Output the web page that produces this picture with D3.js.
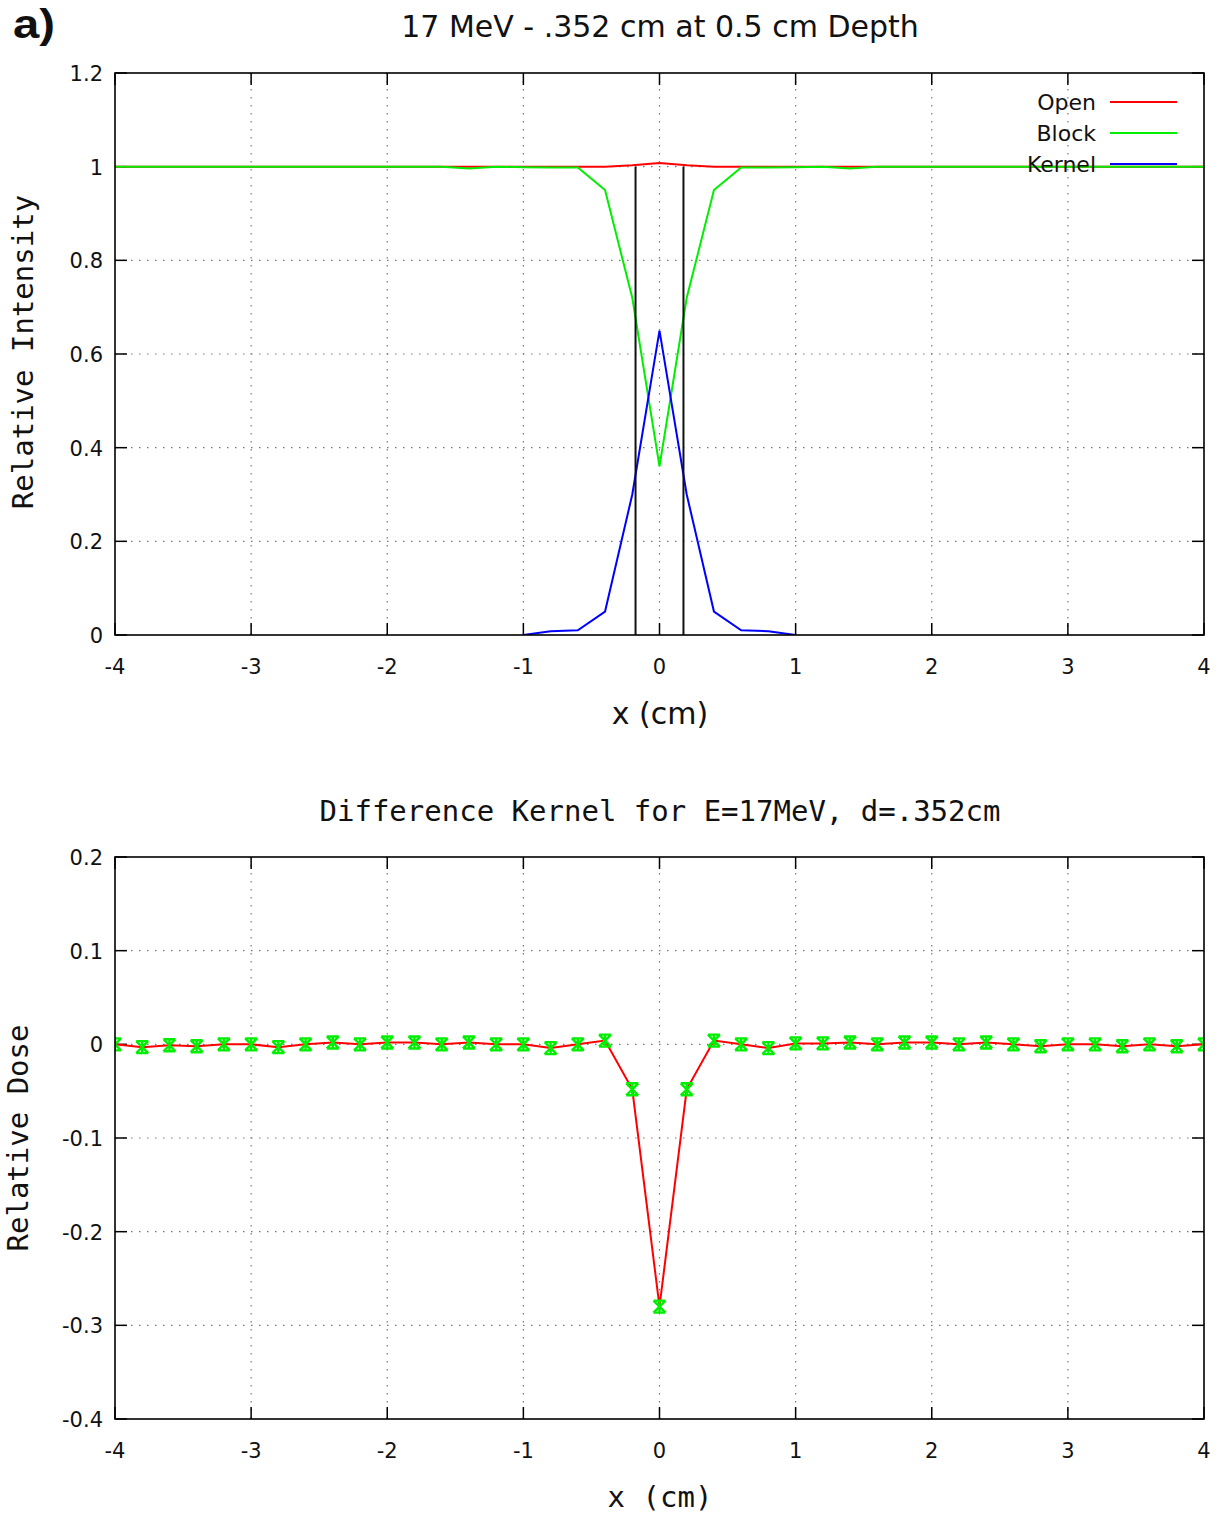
<!DOCTYPE html>
<html>
<head>
<meta charset="utf-8">
<script src="https://cdn.jsdelivr.net/npm/d3@7"></script>
<style>
body{margin:0;background:#fff;}
svg{display:block;}
</style>
</head>
<body>
<svg id="chart" width="1225" height="1517"></svg>
<script>
// ---------- Data ----------
const xPos = [-4.0,-3.8,-3.6,-3.4,-3.2,-3.0,-2.8,-2.6,-2.4,-2.2,-2.0,-1.8,-1.6,-1.4,-1.2,-1.0,-0.8,-0.6,-0.4,-0.2,0.0,
              0.2,0.4,0.6,0.8,1.0,1.2,1.4,1.6,1.8,2.0,2.2,2.4,2.6,2.8,3.0,3.2,3.4,3.6,3.8,4.0];
const openVals = [1,1,1,1,1,1,1,1,1,1,1,1,1,1,1,1,1,1,1,1.003,1.008,
                  1.003,1,1,1,1,1,1,1,1,1,1,1,1,1,1,1,1,1,1,1];
const blockVals = [1,1,1,1,1,1,1,1,1,1,1,1,1,0.996,1,0.999,0.998,0.998,0.95,0.72,0.36,
                   0.72,0.95,0.998,0.998,0.999,1,0.996,1,1,1,1,1,1,1,1,1,1,1,1,1];
const kernelX = [-1.0,-0.8,-0.6,-0.4,-0.2,0.0,0.2,0.4,0.6,0.8,1.0];
const kernelVals = [0,0.008,0.01,0.05,0.30,0.65,0.30,0.05,0.01,0.008,0];
const blockEdges = [-0.176, 0.176];
const diffVals = [0,-0.003,-0.001,-0.002,0,0,-0.003,0,0.002,0,0.002,0.002,0,0.002,0,0,-0.004,0,0.004,-0.048,-0.28,
                  -0.048,0.004,0,-0.004,0.001,0.001,0.002,0,0.002,0.002,0,0.002,0,-0.002,0,0,-0.002,0,-0.002,0];
const xTicks = [-4,-3,-2,-1,0,1,2,3,4];
const yTicksTop = [0,0.2,0.4,0.6,0.8,1,1.2];
const yTicksBottom = [-0.4,-0.3,-0.2,-0.1,0,0.1,0.2];
const legendNames = ["Open","Block","Kernel"];
const seriesColors = ["#ff0000","#00ee00","#0000ff"];

// ---------- Drawing ----------
const svg = d3.select("#chart");
const SANS = "'DejaVu Sans', sans-serif";
const MONO = "'DejaVu Sans Mono', monospace";
const fmt = d => (d===0 ? "0" : (Number.isInteger(d) ? String(d) : d.toFixed(1)));

function frame(g, x, y, yTicks){
  const [x0,x1] = x.range(), [y0,y1] = y.range();
  g.append("g").selectAll("line").data(xTicks.filter(t=>t>-4 && t<4)).join("line")
    .attr("x1",d=>x(d)).attr("x2",d=>x(d)).attr("y1",y1).attr("y2",y0)
    .attr("stroke","#777").attr("stroke-width",1.2).attr("stroke-dasharray","1.5,6.5");
  g.append("g").selectAll("line").data(yTicks.slice(1,-1)).join("line")
    .attr("y1",d=>y(d)).attr("y2",d=>y(d)).attr("x1",x0).attr("x2",x1)
    .attr("stroke","#777").attr("stroke-width",1.2).attr("stroke-dasharray","1.5,6.5");
  const tl = 12;
  const tk = g.append("g").attr("stroke","#000").attr("stroke-width",1.5);
  xTicks.forEach(t=>{
    tk.append("line").attr("x1",x(t)).attr("x2",x(t)).attr("y1",y0).attr("y2",y0-tl);
    tk.append("line").attr("x1",x(t)).attr("x2",x(t)).attr("y1",y1).attr("y2",y1+tl);
  });
  yTicks.forEach(t=>{
    tk.append("line").attr("x1",x0).attr("x2",x0+tl).attr("y1",y(t)).attr("y2",y(t));
    tk.append("line").attr("x1",x1).attr("x2",x1-tl).attr("y1",y(t)).attr("y2",y(t));
  });
  g.append("g").selectAll("text").data(xTicks).join("text")
    .attr("x",d=>x(d)).attr("y",y0+39).attr("text-anchor","middle")
    .attr("font-family",SANS).attr("font-size",21).attr("fill","#111").text(fmt);
  g.append("g").selectAll("text").data(yTicks).join("text")
    .attr("x",x0-12).attr("y",d=>y(d)+8).attr("text-anchor","end")
    .attr("font-family",SANS).attr("font-size",21).attr("fill","#111").text(fmt);
}
function border(g, x, y){
  const [x0,x1] = x.range(), [y0,y1] = y.range();
  g.append("rect").attr("x",x0).attr("y",y1).attr("width",x1-x0).attr("height",y0-y1)
    .attr("fill","none").attr("stroke","#000").attr("stroke-width",1.6);
}

// ---- Top chart ----
const xT = d3.scaleLinear().domain([-4,4]).range([115,1204]);
const yT = d3.scaleLinear().domain([0,1.2]).range([635,73]);
const gT = svg.append("g");
frame(gT, xT, yT, yTicksTop);

svg.append("defs").append("clipPath").attr("id","clipT").append("rect")
  .attr("x",115).attr("y",73).attr("width",1089).attr("height",562);
const lineT = d3.line().x(d=>xT(d[0])).y(d=>yT(d[1]));
const cT = gT.append("g").attr("clip-path","url(#clipT)");
cT.append("path").datum(xPos.map((v,i)=>[v,openVals[i]])).attr("d",lineT)
  .attr("fill","none").attr("stroke",seriesColors[0]).attr("stroke-width",2);
cT.append("path").datum(xPos.map((v,i)=>[v,blockVals[i]])).attr("d",lineT)
  .attr("fill","none").attr("stroke",seriesColors[1]).attr("stroke-width",2);
cT.append("path").datum(kernelX.map((v,i)=>[v,kernelVals[i]])).attr("d",lineT)
  .attr("fill","none").attr("stroke",seriesColors[2]).attr("stroke-width",2);
gT.append("g").selectAll("line").data(blockEdges).join("line")
  .attr("x1",d=>xT(d)).attr("x2",d=>xT(d)).attr("y1",yT(0)).attr("y2",yT(1))
  .attr("stroke","#111").attr("stroke-width",2);
border(gT, xT, yT);

const lg = gT.append("g");
legendNames.forEach((n,i)=>{
  const yy = 102 + i*31;
  lg.append("text").attr("x",1096).attr("y",yy+8).attr("text-anchor","end")
    .attr("font-family",SANS).attr("font-size",22).attr("fill","#111").text(n);
  lg.append("line").attr("x1",1110).attr("x2",1177).attr("y1",yy).attr("y2",yy)
    .attr("stroke",seriesColors[i]).attr("stroke-width",2);
});

svg.append("text").attr("x",660).attr("y",37).attr("text-anchor","middle")
  .attr("font-family",SANS).attr("font-size",30).attr("fill","#111")
  .text("17 MeV - .352 cm at 0.5 cm Depth");
svg.append("text").attr("x",660).attr("y",724).attr("text-anchor","middle")
  .attr("font-family",SANS).attr("font-size",30).attr("fill","#111").text("x (cm)");
svg.append("text").attr("transform","translate(33,352) rotate(-90)").attr("text-anchor","middle")
  .attr("font-family",MONO).attr("font-size",29).attr("fill","#111").text("Relative Intensity");
svg.append("text").attr("x",13).attr("y",38)
  .attr("font-family","'Liberation Sans', Arial, sans-serif").attr("font-weight","bold")
  .attr("font-size",40).attr("fill","#111").attr("textLength",42).attr("lengthAdjust","spacingAndGlyphs")
  .text("a)");

// ---- Bottom chart ----
const xB = d3.scaleLinear().domain([-4,4]).range([115,1204]);
const yB = d3.scaleLinear().domain([-0.4,0.2]).range([1419,857]);
const gB = svg.append("g");
frame(gB, xB, yB, yTicksBottom);
svg.select("defs").append("clipPath").attr("id","clipB").append("rect")
  .attr("x",115).attr("y",857).attr("width",1089).attr("height",562);
const cB = gB.append("g").attr("clip-path","url(#clipB)");
const lineB = d3.line().x(d=>xB(d[0])).y(d=>yB(d[1]));
const diffData = xPos.map((v,i)=>[v,diffVals[i]]);
cB.append("path").datum(diffData).attr("d",lineB)
  .attr("fill","none").attr("stroke","#ff0000").attr("stroke-width",2);
const mk = cB.append("g").attr("stroke","#00ee00").attr("stroke-width",2.4).attr("fill","none");
diffData.forEach(d=>{
  const px = xB(d[0]), py = yB(d[1]);
  mk.append("path").attr("d",
    `M${px-6},${py-6}H${px+6}M${px-6},${py+6}H${px+6}`+
    `M${px-6},${py-6}L${px+6},${py+6}M${px-6},${py+6}L${px+6},${py-6}M${px},${py-6}V${py+6}`);
});
border(gB, xB, yB);

svg.append("text").attr("x",660).attr("y",821).attr("text-anchor","middle")
  .attr("font-family",MONO).attr("font-size",29).attr("fill","#111")
  .text("Difference Kernel for E=17MeV, d=.352cm");
svg.append("text").attr("x",660).attr("y",1507).attr("text-anchor","middle")
  .attr("font-family",MONO).attr("font-size",29).attr("fill","#111").text("x (cm)");
svg.append("text").attr("transform","translate(28,1138) rotate(-90)").attr("text-anchor","middle")
  .attr("font-family",MONO).attr("font-size",29).attr("fill","#111").text("Relative Dose");
</script>
</body>
</html>
